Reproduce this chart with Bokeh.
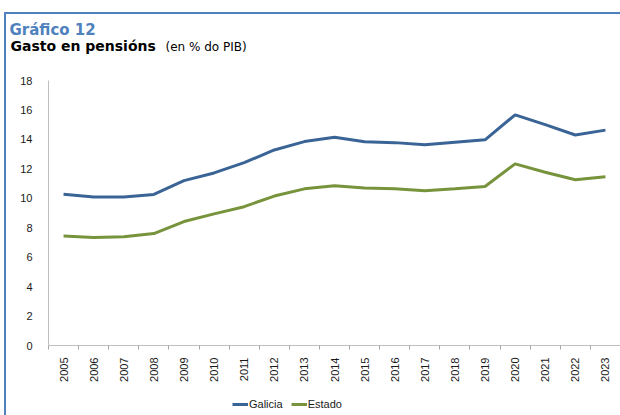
import math
from bokeh.plotting import figure
from bokeh.layouts import column
from bokeh.models import Range1d, FixedTicker, Label, Legend, LegendItem
from bokeh.embed import file_html
from bokeh.resources import INLINE

years = [2005, 2006, 2007, 2008, 2009, 2010, 2011, 2012, 2013, 2014,
         2015, 2016, 2017, 2018, 2019, 2020, 2021, 2022, 2023]
galicia = [10.28, 10.08, 10.08, 10.26, 11.20, 11.72, 12.42, 13.28, 13.85, 14.15,
           13.84, 13.78, 13.63, 13.80, 13.97, 15.67, 15.00, 14.30, 14.63]
estado = [7.43, 7.34, 7.38, 7.60, 8.42, 8.94, 9.43, 10.15, 10.64, 10.85,
          10.69, 10.64, 10.51, 10.65, 10.80, 12.34, 11.77, 11.26, 11.46]
y_ticks = [0, 2, 4, 6, 8, 10, 12, 14, 16, 18]
series_names = ["Galicia", "Estado"]
series_colors = ["#3A6496", "#77933C"]

W = 614
MAIN_H, LEG_H = 377, 24

# main chart
p = figure(width=W, height=MAIN_H, output_backend="svg", toolbar_location=None,
           x_range=Range1d(years[0] - 0.5, years[-1] + 0.5),
           y_range=Range1d(y_ticks[0], y_ticks[-1]),
           min_border_left=42, min_border_right=0,
           min_border_top=66, min_border_bottom=46)
p.outline_line_color = None
p.xgrid.grid_line_color = None
p.ygrid.grid_line_color = None

p.line(years, galicia, line_color=series_colors[0], line_width=3)
p.line(years, estado, line_color=series_colors[1], line_width=3)

ax = p.xaxis[0]
ax.ticker = FixedTicker(ticks=years, minor_ticks=[y - 0.5 for y in years] + [years[-1] + 0.5])
ax.major_tick_line_color = None
ax.major_tick_out = 0
ax.major_tick_in = 0
ax.minor_tick_line_color = "#A6A6A6"
ax.minor_tick_in = 0
ax.minor_tick_out = 4
ax.axis_line_color = "#BFBFBF"
ax.major_label_orientation = math.pi / 2
ax.major_label_standoff = 8
ax.major_label_text_font = "Liberation Sans"
ax.major_label_text_font_size = "11px"
ax.major_label_text_color = "#1a1a1a"

ay = p.yaxis[0]
ay.ticker = FixedTicker(ticks=y_ticks)
ay.major_tick_line_color = None
ay.minor_tick_line_color = None
ay.axis_line_color = "#BFBFBF"
ay.major_label_standoff = 10
ay.major_label_text_font = "Liberation Sans"
ay.major_label_text_font_size = "11px"
ay.major_label_text_color = "#1a1a1a"

# header texts (placed in the panel above the plot area)
l_gasto = Label(x=-38, y=35, x_units="screen", y_units="screen",
                text="Gasto en pensións", text_font="DejaVu Sans", text_font_style="bold",
                text_font_size="14px", text_color="#000000", text_baseline="alphabetic")
l_pib = Label(x=117, y=18, x_units="screen", y_units="screen",
              text="(en % do PIB)", text_font="DejaVu Sans",
              text_font_size="12px", text_color="#000000", text_baseline="alphabetic")
l_graf = Label(x=-39, y=21, x_units="screen", y_units="screen",
               text="Gráfico 12", text_font="DejaVu Sans", text_font_style="bold",
               text_font_size="15px", text_color="#4F81BD", text_baseline="alphabetic")
p.add_layout(l_gasto, "above")
p.add_layout(l_pib, "above")
p.add_layout(l_graf, "above")

# legend strip (series drawn outside its visible range so only the key shows)
leg = figure(width=W, height=LEG_H, output_backend="svg", toolbar_location=None,
             x_range=Range1d(0, 1), y_range=Range1d(0, 1),
             x_axis_type=None, y_axis_type=None)
leg.outline_line_color = None
leg.min_border = 0
leg.grid.visible = False
k1 = leg.line(years, galicia, line_color=series_colors[0], line_width=3)
k2 = leg.line(years, estado, line_color=series_colors[1], line_width=3)
legend = Legend(items=[LegendItem(label=series_names[0], renderers=[k1]),
                       LegendItem(label=series_names[1], renderers=[k2])],
                orientation="horizontal", location=(184, 4),
                glyph_width=16, glyph_height=14, label_standoff=1, spacing=8,
                padding=0, margin=0, border_line_color=None,
                background_fill_alpha=0,
                label_text_font="Liberation Sans", label_text_font_size="11px",
                label_text_color="#1a1a1a")
leg.add_layout(legend, "center")

layout = column(p, leg, spacing=0)
layout.styles = {"margin-left": "4px", "margin-top": "12px",
                 "border-top": "2px solid #4F81BD", "border-left": "2px solid #4F81BD"}

open("out.html", "w").write(file_html(layout, INLINE))
